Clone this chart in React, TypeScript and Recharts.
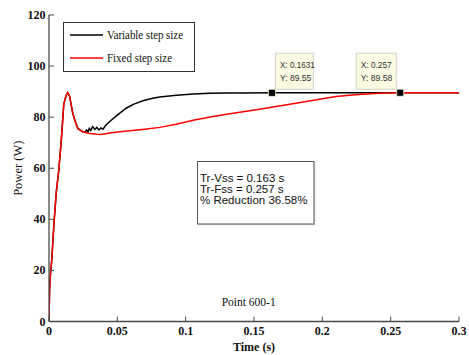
import React from 'react';
import { LineChart, Line, XAxis, YAxis, Legend, ReferenceDot } from 'recharts';

// Axis ticks
const timeTicks = [0, 0.05, 0.1, 0.15, 0.2, 0.25, 0.3];
const powerTicks = [0, 20, 40, 60, 80, 100, 120];

// Series names
const seriesNames = ['Variable step size', 'Fixed step size'];

// Power (W) vs time (s) — variable step size MPPT
const variableTime = [
  0, 0.0004, 0.001, 0.002, 0.0037, 0.0054, 0.0071, 0.009, 0.0108, 0.0125, 0.0137, 0.015,
  0.0174, 0.0195, 0.0212, 0.025, 0.0265, 0.0275, 0.0285, 0.0295, 0.0305, 0.032, 0.0335,
  0.035, 0.0365, 0.038, 0.0395, 0.0415, 0.0444, 0.05, 0.0567, 0.0625, 0.0688, 0.075, 0.081,
  0.0933, 0.1054, 0.1176, 0.13, 0.142, 0.1631, 0.3,
];
const variablePower = [
  0, 12, 18, 24, 39, 51, 59, 71, 85, 88.5, 89.6, 88.3,
  81.5, 77.8, 75.5, 74.2, 74.3, 75.0, 74.3, 75.6, 74.8, 76.3, 75.2,
  76.0, 75.0, 75.8, 75.3, 76.8, 78.3, 80.8, 83.6, 85.2, 86.4, 87.3, 87.9,
  88.6, 89.1, 89.35, 89.45, 89.5, 89.55, 89.55,
];

// Power (W) vs time (s) — fixed step size MPPT
const fixedTime = [
  0, 0.0004, 0.001, 0.002, 0.0037, 0.0054, 0.0071, 0.009, 0.0108, 0.0125, 0.0137, 0.015,
  0.0174, 0.0195, 0.0212, 0.025, 0.03, 0.035, 0.038, 0.0457, 0.0554, 0.07, 0.081, 0.093,
  0.1054, 0.118, 0.13, 0.142, 0.154, 0.1616, 0.174, 0.186, 0.198, 0.21, 0.222, 0.235,
  0.246, 0.257, 0.3,
];
const fixedPower = [
  0, 12, 18, 24, 39, 51, 59, 71, 85, 88.5, 89.6, 88.3,
  81.5, 77.8, 75.5, 74.2, 73.6, 73.3, 73.2, 73.9, 74.5, 75.3, 76.0, 77.2,
  78.8, 80.1, 81.1, 82.1, 83.1, 83.8, 84.9, 85.9, 87.0, 88.1, 88.7, 89.15,
  89.45, 89.58, 89.58,
];

// Data tips marking the settling points
const tipTimes = [0.1631, 0.257];
const tipPowers = [89.55, 89.58];
const tipXLabels = ['X: 0.1631', 'X: 0.257'];
const tipYLabels = ['Y: 89.55', 'Y: 89.58'];

// Annotation text
const noteLines = ['Tr-Vss = 0.163 s', 'Tr-Fss = 0.257 s', '% Reduction 36.58%'];
const caseLabel = 'Point 600-1';

const variableData = variableTime.map((t, i) => ({ t, p: variablePower[i] }));
const fixedData = fixedTime.map((t, i) => ({ t, p: fixedPower[i] }));

const SERIF = "'Liberation Serif','Times New Roman',Times,serif";
const SANS = "'Liberation Sans',Arial,Helvetica,sans-serif";
const AXIS = '#4a4a4a';
const TICK_LEN = 5;

const BottomTick = (props: any) => {
  const { x, y, payload } = props;
  return (
    <g>
      <line x1={x} y1={y} x2={x} y2={y - TICK_LEN} stroke={AXIS} strokeWidth={1} />
      <text
        x={x}
        y={y + 13.5}
        textAnchor="middle"
        fontFamily={SERIF}
        fontWeight="bold"
        fontSize={12}
        fill="#111"
      >
        {String(payload.value)}
      </text>
    </g>
  );
};

const LeftTick = (props: any) => {
  const { x, y, payload } = props;
  return (
    <g>
      <line x1={x} y1={y} x2={x + TICK_LEN} y2={y} stroke={AXIS} strokeWidth={1} />
      <text
        x={x - 3.5}
        y={y + 4}
        textAnchor="end"
        fontFamily={SERIF}
        fontWeight="bold"
        fontSize={12}
        fill="#111"
      >
        {String(payload.value)}
      </text>
    </g>
  );
};

const TopTick = (props: any) => {
  const { x, y } = props;
  return <line x1={x} y1={y} x2={x} y2={y + TICK_LEN} stroke={AXIS} strokeWidth={1} />;
};

const RightTick = (props: any) => {
  const { x, y } = props;
  return <line x1={x} y1={y} x2={x - TICK_LEN} y2={y} stroke={AXIS} strokeWidth={1} />;
};

const legendWidths = [76, 65];

const LegendBox = (props: any) => {
  const items = (props.payload || [])
    .filter((e: any) => seriesNames.includes(e.value))
    .sort((a: any, b: any) => seriesNames.indexOf(a.value) - seriesNames.indexOf(b.value));
  return (
    <svg width={132} height={50} style={{ display: 'block' }}>
      <rect x={0.5} y={0.5} width={131} height={49} fill="#fff" stroke="#333" strokeWidth={1} />
      {items.map((e: any, i: number) => {
        const cy = 13 + i * 23;
        return (
          <g key={String(e.value)}>
            <line x1={7} y1={cy} x2={40} y2={cy} stroke={e.color} strokeWidth={1.6} />
            <text
              x={44}
              y={cy + 4}
              fontFamily={SERIF}
              fontSize={12}
              fill="#111"
              textLength={legendWidths[seriesNames.indexOf(e.value)]}
              lengthAdjust="spacingAndGlyphs"
            >
              {e.value}
            </text>
          </g>
        );
      })}
    </svg>
  );
};

const makeTip = (i: number) => (props: any) => {
  const { cx, cy } = props;
  const w = i === 0 ? 38 : 40;
  const h = 36;
  const left = i === 0 ? cx + 3.5 : cx - 4 - w;
  const top = cy - 3.5 - h;
  return (
    <g>
      <rect x={left} y={top} width={w} height={h} fill="#fbfbe4" stroke="#d2d2c4" strokeWidth={1} />
      <text
        x={left + 4.5}
        y={top + 15}
        fontFamily={SANS}
        fontSize={9.5}
        fill="#333"
        textLength={i === 0 ? 35 : 31}
        lengthAdjust="spacingAndGlyphs"
      >
        {tipXLabels[i]}
      </text>
      <text
        x={left + 4.5}
        y={top + 27.5}
        fontFamily={SANS}
        fontSize={9.5}
        fill="#333"
        textLength={31.5}
        lengthAdjust="spacingAndGlyphs"
      >
        {tipYLabels[i]}
      </text>
      <rect x={cx - 3.5} y={cy - 3.5} width={7} height={7} fill="#000" stroke="#eeeed0" strokeWidth={0.8} />
    </g>
  );
};

export default function App() {
  return (
    <div style={{ position: 'fixed', left: 8, top: 8, width: 461, height: 347 }}>
      <LineChart
        width={461}
        height={347}
        margin={{ top: 7, right: 10, bottom: 0, left: 0 }}
        style={{ background: '#fff' }}
      >
        <XAxis
          xAxisId="bottom"
          type="number"
          dataKey="t"
          domain={[0, 0.3]}
          ticks={timeTicks}
          interval={0}
          height={33.5}
          tickSize={0}
          tickMargin={0}
          tickLine={false}
          axisLine={{ stroke: AXIS, strokeWidth: 1.3 }}
          tick={(p: any) => <BottomTick {...p} />}
          allowDataOverflow
          label={{
            value: 'Time (s)',
            position: 'insideBottom',
            offset: 4,
            fill: '#111',
            style: { fontFamily: SERIF, fontWeight: 'bold', fontSize: 12, fill: '#111' },
          }}
        />
        <XAxis
          xAxisId="top"
          orientation="top"
          type="number"
          dataKey="t"
          domain={[0, 0.3]}
          ticks={timeTicks}
          interval={0}
          height={0}
          tickSize={0}
          tickMargin={0}
          tickLine={false}
          axisLine={{ stroke: AXIS, strokeWidth: 1.3 }}
          tick={(p: any) => <TopTick {...p} />}
          allowDataOverflow
        />
        <YAxis
          yAxisId="left"
          type="number"
          domain={[0, 120]}
          ticks={powerTicks}
          interval={0}
          width={41}
          tickSize={0}
          tickMargin={0}
          tickLine={false}
          axisLine={{ stroke: AXIS, strokeWidth: 1.3 }}
          tick={(p: any) => <LeftTick {...p} />}
          allowDataOverflow
          label={{
            value: 'Power (W)',
            angle: -90,
            position: 'insideLeft',
            offset: 10,
            fill: '#111',
            style: { fontFamily: SERIF, fontSize: 12.5, fill: '#111', textAnchor: 'middle' },
          }}
        />
        <YAxis
          yAxisId="right"
          orientation="right"
          type="number"
          domain={[0, 120]}
          ticks={powerTicks}
          interval={0}
          width={0}
          tickSize={0}
          tickMargin={0}
          tickLine={false}
          axisLine={{ stroke: AXIS, strokeWidth: 1.3 }}
          tick={(p: any) => <RightTick {...p} />}
          allowDataOverflow
        />
        <Legend
          layout="vertical"
          align="center"
          verticalAlign="middle"
          content={(p: any) => <LegendBox {...p} />}
          wrapperStyle={{ left: 55, top: 14, width: 132, height: 50 }}
        />
        {/* invisible copy that carries the mirrored top/right frame axes */}
        <Line
          data={fixedData}
          dataKey="p"
          xAxisId="top"
          yAxisId="right"
          stroke="none"
          dot={false}
          activeDot={false}
          legendType="none"
          isAnimationActive={false}
        />
        <Line
          data={variableData}
          dataKey="p"
          name={seriesNames[0]}
          xAxisId="bottom"
          yAxisId="left"
          type="linear"
          stroke="#000000"
          strokeWidth={1.5}
          dot={false}
          activeDot={false}
          isAnimationActive={false}
        />
        <Line
          data={fixedData}
          dataKey="p"
          name={seriesNames[1]}
          xAxisId="bottom"
          yAxisId="left"
          type="linear"
          stroke="#ff0000"
          strokeWidth={1.5}
          dot={false}
          activeDot={false}
          isAnimationActive={false}
        />
        {tipTimes.map((t, i) => (
          <ReferenceDot
            key={`tip-${i}`}
            xAxisId="bottom"
            yAxisId="left"
            x={t}
            y={tipPowers[i]}
            r={3.5}
            shape={makeTip(i)}
          />
        ))}
      </LineChart>
      <svg
        width={461}
        height={347}
        style={{ position: 'absolute', left: 0, top: 0, pointerEvents: 'none' }}
      >
        <rect x={189.5} y={153.5} width={116.5} height={62.5} fill="#fff" stroke="#555" strokeWidth={1} />
        <line x1={190} y1={216.6} x2={306.6} y2={216.6} stroke="#999" strokeWidth={1} />
        <line x1={306.6} y1={154} x2={306.6} y2={216.6} stroke="#999" strokeWidth={1} />
        {noteLines.map((s, i) => (
          <text key={s} x={192} y={173.5 + i * 11.3} fontFamily={SANS} fontSize={11.5} fill="#111">
            {s}
          </text>
        ))}
        <text x={240.7} y={298} textAnchor="middle" fontFamily={SERIF} fontSize={11.5} fill="#111">
          {caseLabel}
        </text>
      </svg>
    </div>
  );
}
